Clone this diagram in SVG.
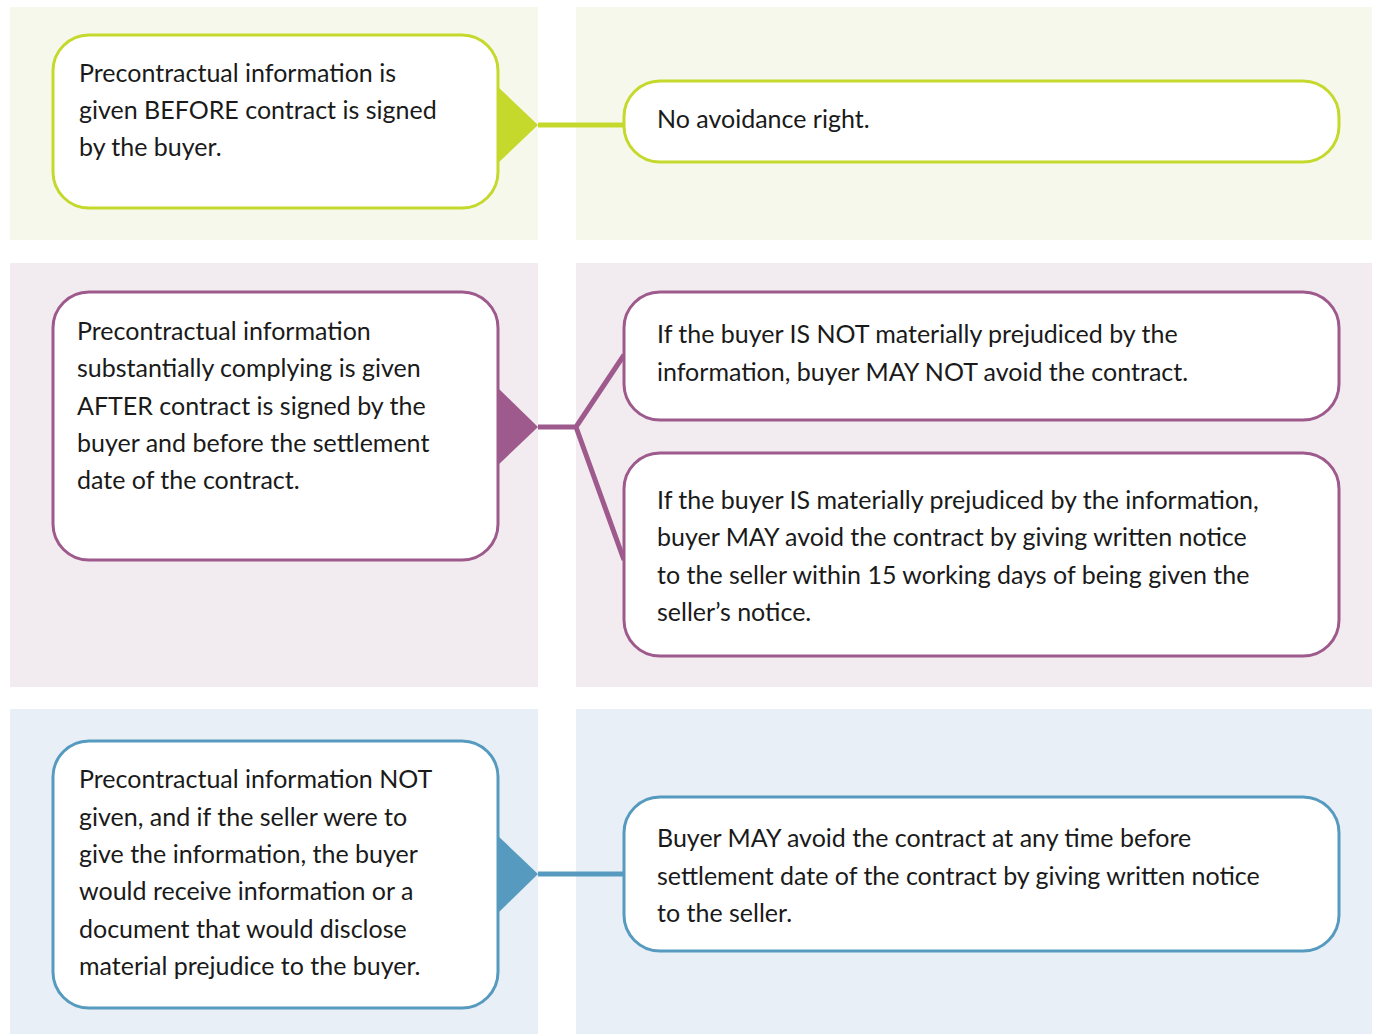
<svg xmlns="http://www.w3.org/2000/svg" width="1376" height="1034" viewBox="0 0 1376 1034">
<style>
.t{font-family:Lato,"Open Sans",sans-serif;font-size:25px;fill:#1a1a1a}
.box{fill:#fff;stroke-width:3}
.g{stroke:#C5D92D}.p{stroke:#9E5A8C}.b{stroke:#569BBF}
.gf{fill:#C5D92D}.pf{fill:#9E5A8C}.bf{fill:#569BBF}
.ln{fill:none;stroke-width:5}
</style>
<rect width="1376" height="1034" fill="#fff"/>
<g id="panels">
<rect x="10" y="7" width="528" height="233" fill="#F6F8EC"/>
<rect x="576" y="7" width="796" height="233" fill="#F6F8EC"/>
<rect x="10" y="263" width="528" height="424" fill="#F2ECF0"/>
<rect x="576" y="263" width="796" height="424" fill="#F2ECF0"/>
<rect x="10" y="709" width="528" height="325" fill="#E8EFF6"/>
<rect x="576" y="709" width="796" height="325" fill="#E8EFF6"/>
</g>
<g id="connectors">
<path class="ln g" d="M538 125H624"/>
<path class="ln p" d="M538 427H576L624 355M576 427L624 560"/>
<path class="ln b" d="M538 874H624"/>
</g>
<g id="n1">
<rect class="box g" x="53" y="35" width="445" height="173" rx="36"/>
<path class="gf" d="M497 86L538 125L497 164Z"/>
<text class="t" x="79" y="82">Precontractual information is</text>
<text class="t" x="79" y="119">given BEFORE contract is signed</text>
<text class="t" x="79" y="156">by the buyer.</text>
</g>
<g id="n2">
<rect class="box g" x="624" y="81" width="715" height="81" rx="36"/>
<text class="t" x="657" y="128">No avoidance right.</text>
</g>
<g id="n3">
<rect class="box p" x="53" y="292" width="445" height="268" rx="36"/>
<path class="pf" d="M497 387L538 427L497 466Z"/>
<text class="t" x="77" y="340">Precontractual information</text>
<text class="t" x="77" y="377">substantially complying is given</text>
<text class="t" x="77" y="415">AFTER contract is signed by the</text>
<text class="t" x="77" y="452">buyer and before the settlement</text>
<text class="t" x="77" y="489">date of the contract.</text>
</g>
<g id="n4">
<rect class="box p" x="624" y="292" width="715" height="128" rx="36"/>
<text class="t" x="657" y="343">If the buyer IS NOT materially prejudiced by the</text>
<text class="t" x="657" y="381">information, buyer MAY NOT avoid the contract.</text>
</g>
<g id="n5">
<rect class="box p" x="624" y="453" width="715" height="203" rx="36"/>
<text class="t" x="657" y="509">If the buyer IS materially prejudiced by the information,</text>
<text class="t" x="657" y="546">buyer MAY avoid the contract by giving written notice</text>
<text class="t" x="657" y="584">to the seller within 15 working days of being given the</text>
<text class="t" x="657" y="621">seller’s notice.</text>
</g>
<g id="n6">
<rect class="box b" x="53" y="741" width="445" height="267" rx="36"/>
<path class="bf" d="M497 835L538 874L497 914Z"/>
<text class="t" x="79" y="788">Precontractual information NOT</text>
<text class="t" x="79" y="826">given, and if the seller were to</text>
<text class="t" x="79" y="863">give the information, the buyer</text>
<text class="t" x="79" y="900">would receive information or a</text>
<text class="t" x="79" y="938">document that would disclose</text>
<text class="t" x="79" y="975">material prejudice to the buyer.</text>
</g>
<g id="n7">
<rect class="box b" x="624" y="797" width="715" height="154" rx="36"/>
<text class="t" x="657" y="847">Buyer MAY avoid the contract at any time before</text>
<text class="t" x="657" y="885">settlement date of the contract by giving written notice</text>
<text class="t" x="657" y="922">to the seller.</text>
</g>
</svg>
